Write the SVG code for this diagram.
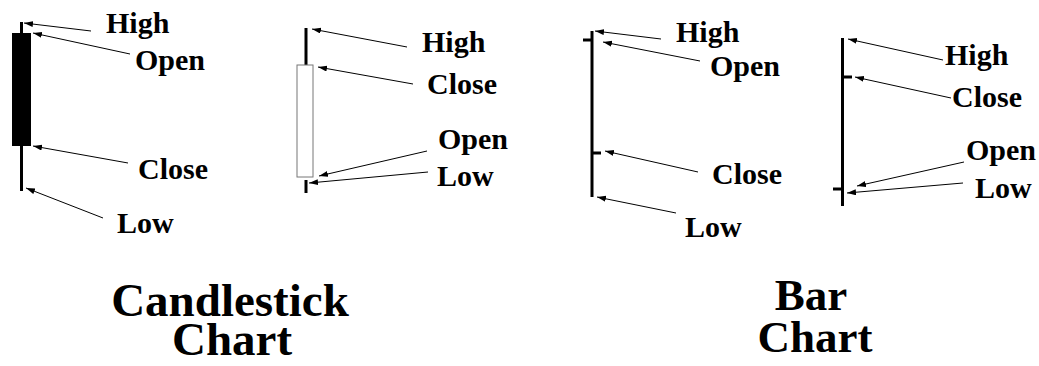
<svg xmlns="http://www.w3.org/2000/svg" width="1039" height="366" viewBox="0 0 1039 366">
<style>
.ptr{stroke:#000;stroke-width:1;fill:none;marker-end:url(#ah)}
.stk{stroke:#000;stroke-width:3;fill:none}
</style>
<defs>
<marker id="ah" markerUnits="userSpaceOnUse" markerWidth="10" markerHeight="8" refX="9" refY="3" orient="auto">
<path d="M0,0 L9,3 L0,6 Z" fill="#000"/>
</marker>
</defs>
<rect width="1039" height="366" fill="#fff"/>

<g id="candle-black">
<line class="stk" x1="21.5" y1="22" x2="21.5" y2="191"/>
<rect x="12" y="33" width="19" height="113" fill="#000"/>
</g>
<g id="candle-white">
<line class="stk" x1="306" y1="28" x2="306" y2="65"/>
<line class="stk" x1="306" y1="180" x2="306" y2="193"/>
<rect x="297" y="65" width="16" height="112" fill="#fff" stroke="#777" stroke-width="1"/>
</g>
<g id="bar-1">
<line class="stk" x1="592" y1="31" x2="592" y2="197"/>
<line class="stk" x1="583" y1="40" x2="592" y2="40"/>
<line class="stk" x1="592" y1="153" x2="601" y2="153"/>
</g>
<g id="bar-2">
<line class="stk" x1="842.5" y1="38" x2="842.5" y2="206"/>
<line class="stk" x1="842.5" y1="77" x2="852" y2="77"/>
<line class="stk" x1="833" y1="189" x2="842.5" y2="189"/>
</g>

<g id="connectors">
<line class="ptr" x1="91" y1="31" x2="24" y2="23"/>
<line class="ptr" x1="130" y1="54" x2="33" y2="33"/>
<line class="ptr" x1="128" y1="163" x2="33" y2="146"/>
<line class="ptr" x1="103" y1="218" x2="26" y2="188"/>

<line class="ptr" x1="407" y1="47" x2="312" y2="29"/>
<line class="ptr" x1="413" y1="84" x2="318" y2="67"/>
<line class="ptr" x1="427" y1="151" x2="319" y2="176"/>
<line class="ptr" x1="428" y1="172" x2="309" y2="183"/>

<line class="ptr" x1="661" y1="39" x2="595" y2="31"/>
<line class="ptr" x1="700" y1="61" x2="603" y2="42"/>
<line class="ptr" x1="698" y1="172" x2="605" y2="151"/>
<line class="ptr" x1="676" y1="213" x2="597" y2="197"/>

<line class="ptr" x1="943" y1="60" x2="848" y2="39"/>
<line class="ptr" x1="951" y1="98" x2="855" y2="77"/>
<line class="ptr" x1="964" y1="162" x2="857" y2="186"/>
<line class="ptr" x1="963" y1="183" x2="847" y2="193"/>
</g>

<g id="labels" font-family="Liberation Serif" font-weight="bold" font-size="30" fill="#000">
<text x="106" y="33">High</text>
<text x="135" y="70">Open</text>
<text x="138" y="179">Close</text>
<text x="117" y="233">Low</text>

<text x="422" y="52">High</text>
<text x="427" y="94">Close</text>
<text x="438" y="149">Open</text>
<text x="437" y="186">Low</text>

<text x="676" y="42">High</text>
<text x="710" y="76">Open</text>
<text x="712" y="184">Close</text>
<text x="685" y="237">Low</text>

<text x="945" y="65">High</text>
<text x="952" y="107">Close</text>
<text x="966" y="160">Open</text>
<text x="975" y="198">Low</text>
</g>

<g id="titles" font-family="Liberation Serif" font-weight="bold" fill="#000" text-anchor="middle">
<text x="230" y="316" font-size="47">Candlestick</text>
<text x="232" y="355" font-size="47">Chart</text>
<text x="811" y="310" font-size="45">Bar</text>
<text x="815" y="352" font-size="45">Chart</text>
</g>
</svg>
